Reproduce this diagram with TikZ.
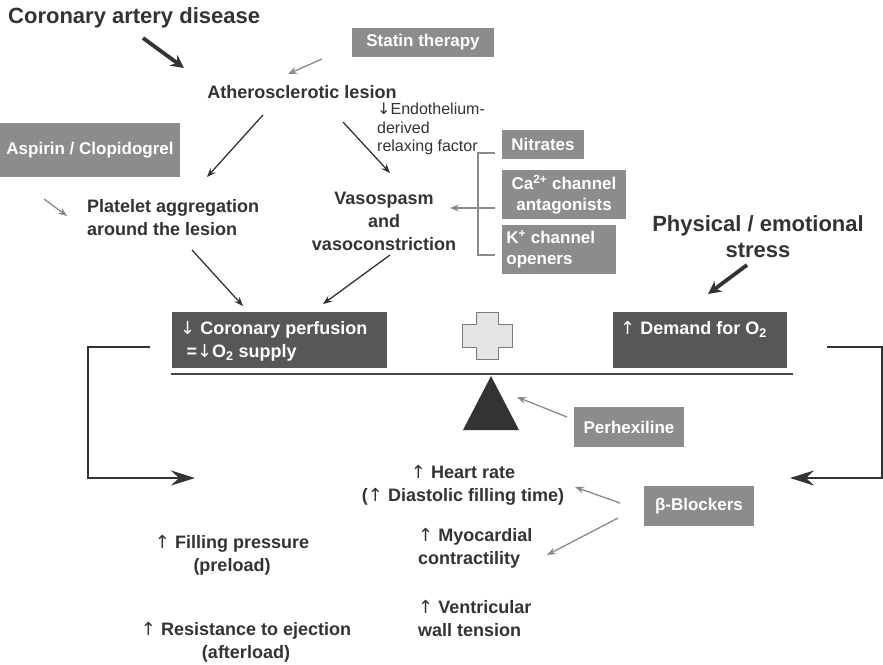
\documentclass[tikz,border=0pt]{standalone}
\usepackage{fontspec}
\setmainfont{Liberation Sans}
\newfontfamily\arrowfont{DejaVu Sans}
\newcommand{\uparr}{{\arrowfont\mdseries ↑}}
\newcommand{\downarr}{{\arrowfont\mdseries ↓}}
\usetikzlibrary{arrows.meta}

\definecolor{ink}{HTML}{333333}
\definecolor{drugfill}{HTML}{8C8C8C}
\definecolor{darkfill}{HTML}{575757}
\definecolor{linkgray}{HTML}{8A8A8A}
\definecolor{crossfill}{HTML}{E4E4E4}
\definecolor{crossline}{HTML}{7A7A7A}

\begin{document}
\begin{tikzpicture}[x=1pt,y=-1pt,
  label/.style={text=ink,font=\fontsize{18}{23}\selectfont\bfseries,inner sep=0pt},
  headline/.style={text=ink,font=\fontsize{22}{26}\selectfont\bfseries,inner sep=0pt},
  note/.style={text=ink,font=\fontsize{16}{18.5}\selectfont,inner sep=0pt,align=left},
  drug/.style={fill=drugfill,text=white,font=\fontsize{17}{21}\selectfont\bfseries,inner sep=0pt},
  panel/.style={fill=darkfill,inner sep=0pt},
  paneltext/.style={text=white,font=\fontsize{18}{23}\selectfont\bfseries,inner sep=0pt,align=left},
  link/.style={ink,line width=1.3pt,-{Stealth[length=9pt,width=7pt]}},
  druglink/.style={linkgray,line width=1.3pt,-{Stealth[length=9pt,width=7pt]}},
  heavy/.style={ink,line width=3.8pt,-{Stealth[length=13pt,width=13pt]}},
  loop/.style={ink,line width=2.6pt,-{Stealth[length=24pt,width=15pt,inset=8pt]}},
]
\useasboundingbox (0,0) rectangle (883,664);

% ---------- upper cascade ----------
\node[headline,anchor=base west] (cad) at (8,23) {Coronary artery disease};
\coordinate (cadA) at (143,38);
\coordinate (cadB) at (184,68);
\draw[heavy] (cadA) -- (cadB);

\node[drug,minimum width=142pt,minimum height=29pt] (statin) at (423,42.5) {Statin therapy};
\coordinate (statA) at (322,59);
\coordinate (statB) at (288,74);
\draw[druglink] (statA) -- (statB);

\node[label,anchor=base] (ath) at (302,98.5) {Atherosclerotic lesion};
\node[note,anchor=north west] (edrf) at (377,103)
  {\downarr Endothelium-\\derived\\relaxing factor};

\coordinate (athL) at (263,115);
\coordinate (platT) at (207,177);
\draw[link] (athL) -- (platT);
\coordinate (athR) at (343,122);
\coordinate (vasoT) at (390,173);
\draw[link] (athR) -- (vasoT);

\node[drug,minimum width=180pt,minimum height=54pt] (aspirin) at (90,150) {Aspirin / Clopidogrel};
\coordinate (aspA) at (44,199);
\coordinate (aspB) at (67,216);
\draw[druglink] (aspA) -- (aspB);

\node[label,align=left,anchor=west] (plat) at (87,217.5)
  {Platelet aggregation\\around the lesion};
\node[label,align=center] (vaso) at (384,221)
  {Vasospasm\\and\\vasoconstriction};

\coordinate (platB) at (192,250);
\coordinate (perfL) at (243,306);
\draw[link] (platB) -- (perfL);
\coordinate (vasoB) at (390,255);
\coordinate (perfR) at (323,304);
\draw[link] (vasoB) -- (perfR);

% ---------- vasodilators ----------
\node[drug,minimum width=82pt,minimum height=29pt] (nitr) at (543,144.5) {Nitrates};
\node[drug,minimum width=124pt,minimum height=49pt,align=center] (caant) at (564,194.5)
  {Ca\textsuperscript{2+} channel\\antagonists};
\node[drug,minimum width=114pt,minimum height=49pt,align=left] (kopen) at (559,249.5)
  {K\textsuperscript{+} channel\\openers\hspace*{2.3em}};
\coordinate (brT) at (495,153);
\coordinate (brTc) at (478,153);
\coordinate (brBc) at (478,255);
\coordinate (brB) at (495,255);
\draw[linkgray,line width=1.3pt] (brT) -- (brTc) -- (brBc) -- (brB);
\coordinate (brM) at (495,208);
\coordinate (vasoR) at (450,208);
\draw[druglink] (brM) -- (vasoR);

% ---------- balance ----------
\node[panel,minimum width=215pt,minimum height=56pt] (supply) at (279.5,340) {};
\node[paneltext,anchor=north west] (supplyt) at (180,321)
  {\downarr\ Coronary perfusion\\\hspace*{0.35em}=\downarr O\textsubscript{2} supply};
\node[panel,minimum width=174pt,minimum height=56pt] (demand) at (700,340) {};
\node[paneltext,anchor=north west] (demandt) at (620,321)
  {\uparr\ Demand for O\textsubscript{2}};

\draw[crossline,fill=crossfill,line width=1pt] (476,312) -- (498,312) -- (498,324) -- (512,324)
  -- (512,347) -- (498,347) -- (498,359) -- (476,359) -- (476,347) -- (462,347)
  -- (462,324) -- (476,324) -- cycle;

\coordinate (beamL) at (171,374);
\coordinate (beamR) at (793,374);
\draw[ink!90,line width=1.6pt] (beamL) -- (beamR);
\fill[ink] (491,376) -- (519,430) -- (463,430) -- cycle;

\node[drug,minimum width=110pt,minimum height=40pt] (perhex) at (629,427) {Perhexiline};
\coordinate (perhA) at (567,417);
\coordinate (perhB) at (517,397);
\draw[druglink] (perhA) -- (perhB);

\node[headline,align=center] (stress) at (758,237) {Physical / emotional\\stress};
\coordinate (strA) at (747,265);
\coordinate (strB) at (708,294);
\draw[heavy] (strA) -- (strB);

% ---------- feedback loops ----------
\coordinate (lpA) at (150,347);
\coordinate (lpB) at (88,347);
\coordinate (lpC) at (88,478);
\coordinate (lpD) at (195,478);
\draw[loop] (lpA) -- (lpB) -- (lpC) -- (lpD);
\coordinate (rpA) at (827,347);
\coordinate (rpB) at (882,347);
\coordinate (rpC) at (882,478);
\coordinate (rpD) at (790,478);
\draw[loop] (rpA) -- (rpB) -- (rpC) -- (rpD);

% ---------- determinants of supply and demand ----------
\node[label,align=center] (hr) at (463,485.5)
  {\uparr\ Heart rate\\(\uparr\ Diastolic filling time)};
\node[label,align=left,anchor=west] (myo) at (418,548.5)
  {\uparr\ Myocardial\\contractility};
\node[label,align=left,anchor=west] (vent) at (418,618.5)
  {\uparr\ Ventricular\\wall tension};
\node[label,align=center] (fill) at (232,555.5)
  {\uparr\ Filling pressure\\(preload)};
\node[label,align=center] (resist) at (246,642.5)
  {\uparr\ Resistance to ejection\\(afterload)};

\node[drug,minimum width=110pt,minimum height=40pt] (beta) at (699,506) {β-Blockers};
\coordinate (betaA) at (620,503);
\coordinate (betaB) at (575,487);
\draw[druglink] (betaA) -- (betaB);
\coordinate (betaC) at (618,518);
\coordinate (betaD) at (547,555);
\draw[druglink] (betaC) -- (betaD);
\end{tikzpicture}
\end{document}
